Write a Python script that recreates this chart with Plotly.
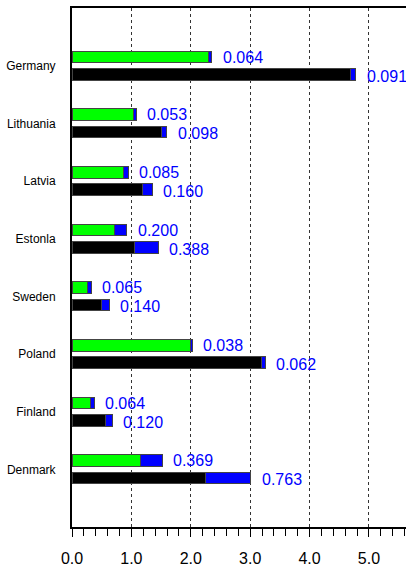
import plotly.graph_objects as go

# Data (bottom to top)
countries = ["Denmark", "Finland", "Poland", "Sweden", "Estonla", "Latvia", "Lithuania", "Germany"]
green_vals = [1.15, 0.31, 1.99, 0.26, 0.72, 0.86, 1.03, 2.29]
green_blue = [0.369, 0.064, 0.038, 0.065, 0.200, 0.085, 0.053, 0.064]
black_vals = [2.25, 0.56, 3.19, 0.49, 1.06, 1.19, 1.50, 4.69]
black_blue = [0.763, 0.120, 0.062, 0.140, 0.388, 0.160, 0.098, 0.091]
x_ticks = [0, 1, 2, 3, 4, 5]
x_ticktext = ["0.0", "1.0", "2.0", "3.0", "4.0", "5.0"]

OFF = 0.15
W = 0.2
idx = list(range(len(countries)))
y_top = [i + OFF for i in idx]
y_bot = [i - OFF for i in idx]
outline = dict(color="#444444", width=1)

fig = go.Figure()
fig.add_trace(go.Bar(x=green_vals, y=y_top, orientation="h", width=W,
                     marker=dict(color="#00ff00", line=outline), showlegend=False))
fig.add_trace(go.Bar(x=black_vals, y=y_bot, orientation="h", width=W,
                     marker=dict(color="#000000", line=outline), showlegend=False))
fig.add_trace(go.Bar(x=green_blue, y=y_top, orientation="h", width=W,
                     marker=dict(color="#0000ff", line=outline), showlegend=False))
fig.add_trace(go.Bar(x=black_blue, y=y_bot, orientation="h", width=W,
                     marker=dict(color="#0000ff", line=outline), showlegend=False))

annots = []
for g, gb, yy in zip(green_vals, green_blue, y_top):
    annots.append(dict(x=g + gb, y=yy, text=f"{gb:.3f}", xanchor="left", yanchor="middle",
                       xshift=9, showarrow=False, font=dict(size=16, color="#0000ff")))
for b, bb, yy in zip(black_vals, black_blue, y_bot):
    annots.append(dict(x=b + bb, y=yy, text=f"{bb:.3f}", xanchor="left", yanchor="middle",
                       xshift=9, yshift=-2, showarrow=False, font=dict(size=16, color="#0000ff")))

fig.update_layout(
    barmode="stack",
    width=406, height=569,
    margin=dict(l=72, r=0, t=8, b=42),
    paper_bgcolor="white", plot_bgcolor="white",
    font=dict(family="Liberation Sans, Arial, sans-serif", color="black"),
    annotations=annots,
    xaxis=dict(range=[0, 5.623], tickvals=x_ticks, ticktext=x_ticktext, automargin=False,
               showgrid=True, gridcolor="#333333", griddash="dot", gridwidth=1,
               zeroline=False, showline=True, linecolor="black", linewidth=2, mirror=True,
               ticks="outside", ticklen=8, tickwidth=1, tickcolor="black",
               minor=dict(dtick=0.2, ticks="outside", ticklen=7, tickcolor="black", showgrid=False),
               ticklabelstandoff=8, tickfont=dict(size=16)),
    yaxis=dict(range=[-1.0, 8.0], tickvals=idx, ticktext=countries, showgrid=False,
               automargin=False,
               zeroline=False, showline=True, linecolor="black", linewidth=2,
               ticks="", ticklabelstandoff=12, tickfont=dict(size=12)),
)

fig.write_html("out.html", config={"displayModeBar": False},
               post_script="document.body.style.margin='0';document.body.style.overflow='hidden';")
